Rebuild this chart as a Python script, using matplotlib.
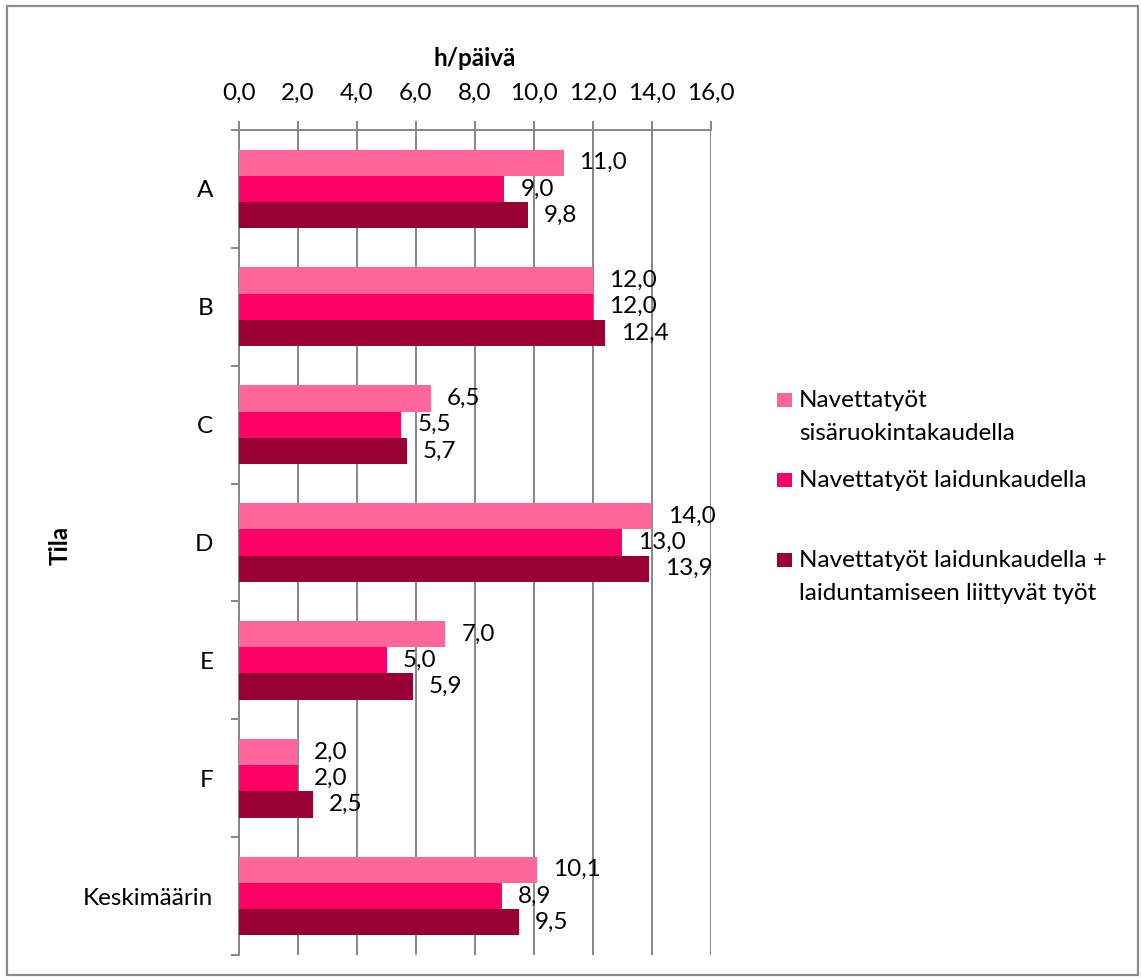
import matplotlib
matplotlib.use("Agg")
import matplotlib.pyplot as plt
from matplotlib.patches import Rectangle
from matplotlib.ticker import FixedLocator, FuncFormatter
import numpy as np

plt.rcParams['font.family'] = ['Lato', 'DejaVu Sans']

categories = ["A", "B", "C", "D", "E", "F", "Keskimäärin"]
series_names = [
    "Navettatyöt\nsisäruokintakaudella",
    "Navettatyöt laidunkaudella",
    "Navettatyöt laidunkaudella +\nlaiduntamiseen liittyvät työt",
]
indoor = [11.0, 12.0, 6.5, 14.0, 7.0, 2.0, 10.1]
pasture = [9.0, 12.0, 5.5, 13.0, 5.0, 2.0, 8.9]
pasture_plus = [9.8, 12.4, 5.7, 13.9, 5.9, 2.5, 9.5]
x_ticks = [0, 2, 4, 6, 8, 10, 12, 14, 16]

colors = ["#FF6699", "#FF0066", "#990033"]
grid_color = "#868686"
FS = 17.5

W, H = 1141, 980
fig = plt.figure(figsize=(W / 100, H / 100), dpi=100)

# outer chart frame
fig.add_artist(Rectangle((7 / W, 1 - 975 / H), (1138 - 7) / W, (975 - 6) / H,
                         transform=fig.transFigure, fill=False,
                         edgecolor="#8C8C8C", lw=1.6))

x0, x1, y0, y1 = 239, 711, 130, 955
ax = fig.add_axes([x0 / W, 1 - y1 / H, (x1 - x0) / W, (y1 - y0) / H])

y = np.arange(len(categories))
bh = 0.223
for i, vals in enumerate([indoor, pasture, pasture_plus]):
    c = ax.barh(y + (i - 1) * bh, vals, height=bh, color=colors[i],
                label=series_names[i], zorder=3)
    ax.bar_label(c, labels=[f"{v:.1f}".replace(".", ",") for v in vals],
                 padding=11.5, fontsize=FS, color="black", zorder=4)

ax.set_xlim(0, 16)
ax.set_ylim(len(categories) - 0.5, -0.5)

# value axis drawn along the top
ax.xaxis.set_ticks_position("top")
ax.xaxis.set_label_position("top")
ax.set_xticks(x_ticks)
ax.xaxis.set_major_formatter(FuncFormatter(lambda v, p: f"{v:.1f}".replace(".", ",")))
ax.tick_params(axis="x", which="major", direction="out", length=6.5, width=1.4,
               color=grid_color, pad=12.5, labelsize=FS)
ax.grid(axis="x", color=grid_color, lw=1.4, zorder=0)

# category axis: labels at centres, tick marks at boundaries
ax.set_yticks(y)
ax.set_yticklabels(categories)
ax.yaxis.set_minor_locator(FixedLocator(np.arange(-0.5, len(categories), 1.0)))
ax.tick_params(axis="y", which="major", length=0, pad=18.5, labelsize=FS)
ax.tick_params(axis="y", which="minor", direction="out", length=6, width=1.4,
               color=grid_color)

for s in ["right", "bottom"]:
    ax.spines[s].set_visible(False)
for s in ["left", "top"]:
    ax.spines[s].set_color(grid_color)
    ax.spines[s].set_linewidth(1.4)

fig.text(475 / W, 1 - 58 / H, "h/päivä", ha="center", va="center",
         fontsize=FS, fontweight="bold")
fig.text(60 / W, 1 - 545 / H, "Tila", ha="center", va="center",
         rotation=90, fontsize=FS, fontweight="bold")

# legend: colour square aligned with the first text line, lines set 33 px apart
legend_rows = [(400, 0), (480, 1), (560, 2)]
for ycen, idx in legend_rows:
    fig.add_artist(Rectangle((777 / W, 1 - (ycen + 7) / H), 15 / W, 14 / H,
                             transform=fig.transFigure,
                             facecolor=colors[idx], edgecolor="none"))
    for k, line in enumerate(series_names[idx].split("\n")):
        fig.text(799 / W, 1 - (ycen + 7 + 33 * k) / H, line, ha="left",
                 va="baseline", fontsize=FS)

fig.savefig("out.png", dpi=100)
